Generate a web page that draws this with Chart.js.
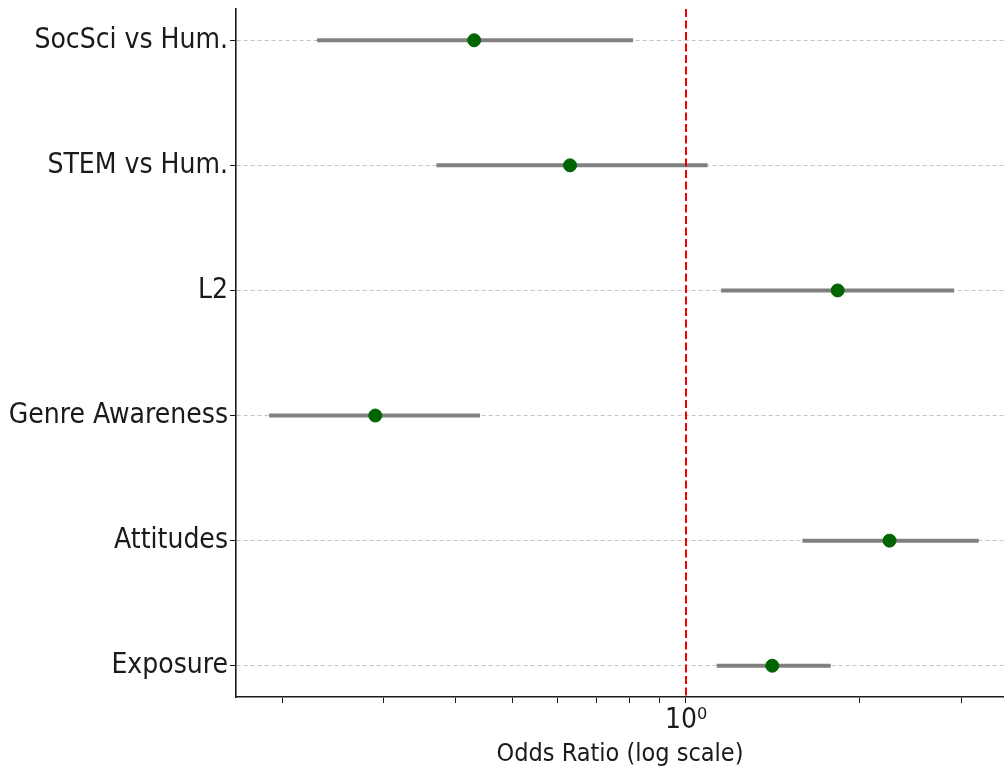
<!DOCTYPE html>
<html lang="en">
<head>
<meta charset="UTF-8">
<title>Odds Ratios</title>
<script src="https://cdn.jsdelivr.net/npm/chart.js"></script>
<style>
  html, body { margin: 0; padding: 0; background: #fff; }
  #wrap { width: 1004px; height: 769px; }
</style>
</head>
<body>
<div id="wrap"><canvas id="orChart"></canvas></div>
<script>
// values (log axis)
const labels = ['SocSci vs Hum.', 'STEM vs Hum.', 'L2', 'Genre Awareness', 'Attitudes', 'Exposure'];
const oddsRatio = [0.43, 0.63, 1.83, 0.29, 2.25, 1.41];
const ciLow = [0.23, 0.37, 1.15, 0.19, 1.59, 1.13];
const ciHigh = [0.81, 1.09, 2.91, 0.44, 3.21, 1.78];
const xTicks = [0.2, 0.3, 0.4, 0.5, 0.6, 0.7, 0.8, 0.9, 1, 2, 3];
const refLine = 1;

const font = 'DejaVu Sans Condensed, DejaVu Sans, sans-serif';
const ink = '#1a1a1a';

// one line per confidence interval
const ciSets = labels.map((l, i) => ({
    type: 'line',
    data: [{x: ciLow[i], y: i}, {x: ciHigh[i], y: i}],
    borderColor: '#808080',
    borderWidth: 4,
    pointRadius: 0,
    order: 3
}));

const ctx = document.getElementById('orChart').getContext('2d');
new Chart(ctx, {
    type: 'scatter',
    data: {
        datasets: [
            {
                data: oddsRatio.map((v, i) => ({x: v, y: i})),
                backgroundColor: '#006400',
                borderColor: '#006400',
                pointRadius: 6.5,
                order: 0
            },
            {
                type: 'line',
                data: [{x: refLine, y: -0.25}, {x: refLine, y: 5.25}],
                borderColor: '#f00000',
                borderWidth: 2,
                borderDash: [8, 3.5],
                pointRadius: 0,
                order: 1
            },
            ...ciSets
        ]
    },
    options: {
        responsive: true,
        maintainAspectRatio: false,
        animation: false,
        layout: { autoPadding: false, padding: { top: 9, right: 0, left: 0, bottom: 0 } },
        plugins: {
            legend: { display: false },
            tooltip: { enabled: false }
        },
        scales: {
            x: {
                type: 'logarithmic',
                min: 0.1665,
                max: 3.55,
                afterBuildTicks: s => { s.ticks = xTicks.map(v => ({ value: v, major: v === 1 })); },
                afterFit: s => { s.height = 72; s.paddingLeft = 0; s.paddingRight = 0; },
                ticks: {
                    autoSkip: false,
                    maxRotation: 0,
                    padding: 1,
                    color: ink,
                    font: { family: font, size: 28 },
                    callback: v => v === 1 ? '10\u2070' : ''
                },
                grid: { drawOnChartArea: false, tickLength: 6, tickColor: ink, lineWidth: 1 },
                border: { color: ink, width: 1.6 },
                title: {
                    display: true,
                    text: 'Odds Ratio (log scale)',
                    color: ink,
                    font: { family: font, size: 25 },
                    padding: { top: 0, bottom: 0 }
                }
            },
            y: {
                type: 'linear',
                reverse: true,
                min: -0.25,
                max: 5.25,
                afterBuildTicks: s => { s.ticks = labels.map((l, i) => ({ value: i })); },
                afterFit: s => { s.width = 236; s.paddingTop = 0; s.paddingBottom = 0; },
                ticks: {
                    autoSkip: false,
                    padding: 2,
                    color: ink,
                    font: { family: font, size: 28 },
                    callback: v => labels[v]
                },
                grid: {
                    color: '#c4c4c4',
                    lineWidth: 1,
                    tickLength: 6,
                    tickColor: ink,
                    tickWidth: 1,
                    tickBorderDash: []
                },
                border: { color: ink, width: 1.6, dash: [4, 3] }
            }
        }
    }
});
</script>
</body>
</html>
